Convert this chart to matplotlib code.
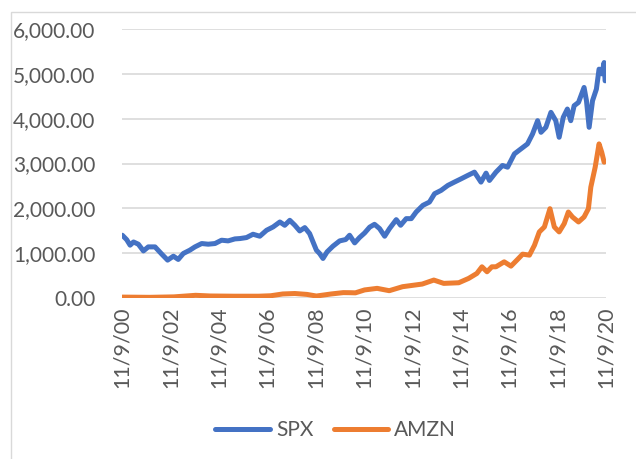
import numpy as np
import pandas as pd
import matplotlib
matplotlib.use("Agg")
import matplotlib.pyplot as plt
import matplotlib.dates as mdates
from matplotlib.patches import Rectangle

# decimal years
spx_t = [2000.87, 2001.05, 2001.19, 2001.33, 2001.53, 2001.74, 2001.94, 2002.22, 2002.50, 2002.74,
         2002.98, 2003.18, 2003.39, 2003.66, 2003.87, 2004.15, 2004.42, 2004.70, 2004.97, 2005.24,
         2005.52, 2005.73, 2006.00, 2006.27, 2006.55, 2006.83, 2007.10, 2007.38, 2007.58, 2007.79,
         2008.00, 2008.20, 2008.41, 2008.61, 2008.75, 2008.89, 2009.02, 2009.16, 2009.33, 2009.57,
         2009.85, 2010.10, 2010.26, 2010.47, 2010.67, 2010.88, 2011.09, 2011.29, 2011.50, 2011.71,
         2011.91, 2012.19, 2012.37, 2012.60, 2012.81, 2013.01, 2013.29, 2013.56, 2013.77, 2014.04,
         2014.32, 2014.59, 2014.87, 2015.14, 2015.42, 2015.69, 2015.90, 2016.04, 2016.31, 2016.58,
         2016.79, 2017.07, 2017.34, 2017.61, 2017.82, 2018.03, 2018.17, 2018.37, 2018.58, 2018.78,
         2018.92, 2019.09, 2019.26, 2019.40, 2019.54, 2019.72, 2019.95, 2020.05, 2020.16, 2020.30,
         2020.46, 2020.57, 2020.68, 2020.78, 2020.82]
spx = [1400, 1300, 1178, 1250, 1200, 1050, 1140, 1140, 978, 845,
       933, 860, 993, 1067, 1140, 1215, 1200, 1215, 1289, 1274,
       1318, 1326, 1348, 1422, 1378, 1511, 1585, 1696, 1622, 1733,
       1622, 1496, 1570, 1437, 1251, 1067, 993, 882, 1029, 1155,
       1274, 1304, 1400, 1229, 1348, 1450, 1580, 1644, 1548, 1378,
       1548, 1748, 1622, 1770, 1770, 1918, 2067, 2140, 2326, 2400,
       2511, 2585, 2659, 2733, 2807, 2585, 2785, 2622, 2807, 2956,
       2918, 3215, 3326, 3437, 3659, 3955, 3696, 3807, 4141, 3955,
       3585, 4030, 4215, 3955, 4289, 4363, 4696, 4400, 3807, 4400,
       4659, 5104, 5000, 5252, 4844]

amzn_t = [2000.87, 2002.00, 2003.00, 2003.90, 2004.50, 2005.50, 2006.50, 2007.00, 2007.50, 2008.00,
          2008.50, 2008.89, 2009.50, 2010.00, 2010.30, 2010.50, 2010.88, 2011.40, 2011.90, 2012.45,
          2013.26, 2013.74, 2014.15, 2014.77, 2015.18, 2015.52, 2015.73, 2015.94, 2016.14, 2016.31,
          2016.65, 2016.93, 2017.20, 2017.41, 2017.69, 2017.90, 2018.10, 2018.31, 2018.54, 2018.72,
          2018.92, 2019.13, 2019.30, 2019.47, 2019.72, 2019.95, 2020.13, 2020.23, 2020.41, 2020.57,
          2020.68, 2020.78]
amzn = [20, 15, 25, 60, 45, 40, 40, 50, 90, 100,
        80, 44, 90, 120, 118, 115, 180, 215, 163, 252,
        311, 400, 326, 340, 437, 548, 696, 585, 696, 696,
        807, 711, 860, 978, 956, 1178, 1474, 1585, 1992, 1585,
        1474, 1659, 1918, 1807, 1696, 1807, 1992, 2474, 2918, 3437,
        3252, 3030]

tick_years = [2000, 2002, 2004, 2006, 2008, 2010, 2012, 2014, 2016, 2018, 2020]


def to_dates(years):
    out = []
    for y in years:
        base = pd.Timestamp(int(y), 1, 1)
        out.append(base + pd.Timedelta(days=(y - int(y)) * 365.25))
    return out


plt.rcParams['font.family'] = ['Lato', 'DejaVu Sans']
grey = '#595959'

fig = plt.figure(figsize=(6.36, 4.59), dpi=100)
fig.patches.append(Rectangle((11 / 636, -0.1), 1.0, 1 - 12.5 / 459 + 0.1,
                             transform=fig.transFigure, fill=False,
                             edgecolor='#D9D9D9', lw=1.0))

ax = fig.add_axes([122 / 636, 161 / 459, 484 / 636, 269 / 459])
ax.plot(to_dates(spx_t), spx, color='#4472C4', lw=3.6, label='SPX',
        solid_joinstyle='round', solid_capstyle='round')
ax.plot(to_dates(amzn_t), amzn, color='#ED7D31', lw=3.6, label='AMZN',
        solid_joinstyle='round', solid_capstyle='round')

ticks = [pd.Timestamp(y, 11, 9) for y in tick_years]
ax.set_xlim(ticks[0], ticks[-1])
ax.set_xticks(ticks)
ax.set_xticklabels([t.strftime('%-m/%-d/%y') for t in ticks], rotation=90,
                   fontsize=15.5, color=grey)
ax.set_ylim(0, 6000)
ax.set_yticks(range(0, 6001, 1000))
ax.set_yticklabels(['{:,.2f}'.format(v) for v in range(0, 6001, 1000)],
                   fontsize=15, color=grey)
ax.tick_params(length=0, axis='y', pad=19)
ax.tick_params(length=0, axis='x', pad=6)
ax.grid(axis='y', color='#D9D9D9', lw=1.2)
ax.set_axisbelow(True)
for s in ax.spines.values():
    s.set_visible(False)

fig.legend(loc='center', bbox_to_anchor=(0.528, 0.063), ncol=2, frameon=False,
           fontsize=15, labelcolor=grey, handlelength=2.6, handletextpad=0.3,
           columnspacing=1.0)

fig.savefig('out.png', dpi=100)
